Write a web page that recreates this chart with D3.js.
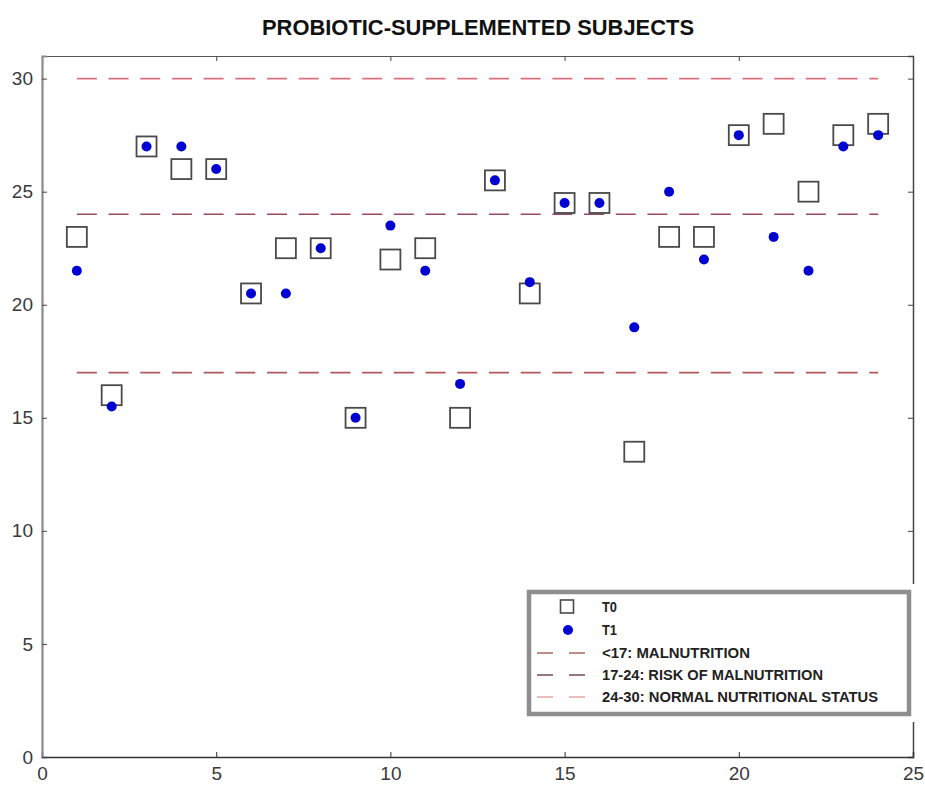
<!DOCTYPE html>
<html>
<head>
<meta charset="utf-8">
<script src="https://cdn.jsdelivr.net/npm/d3@7"></script>
<style>
  html, body { margin: 0; padding: 0; background: #fff; }
  svg { display: block; }
</style>
</head>
<body>
<svg id="chart" width="925" height="791"></svg>
<script>
// Subject index (1..24) and BMI-like nutritional scores at two time points
const subjects = [1,2,3,4,5,6,7,8,9,10,11,12,13,14,15,16,17,18,19,20,21,22,23,24];
const t0Values = [23,16,27,26,26,20.5,22.5,22.5,15,22,22.5,15,25.5,20.5,24.5,24.5,13.5,23,23,27.5,28,25,27.5,28];
const t1Values = [21.5,15.5,27,27,26,20.5,20.5,22.5,15,23.5,21.5,16.5,25.5,21,24.5,24.5,19,25,22,27.5,23,21.5,27,27.5];

// Threshold reference lines
const thresholdValues = [17, 24, 30];
const thresholdLabels = ["<17: MALNUTRITION", "17-24: RISK OF MALNUTRITION", "24-30: NORMAL NUTRITIONAL STATUS"];
const thresholdColors = ["#b0585c", "#9a4a5c", "#d9707e"];
const thresholdLegendColors = ["#a86a5a", "#7a4a5a", "#e0a8a8"];

const xTicks = [0, 5, 10, 15, 20, 25];
const yTicks = [0, 5, 10, 15, 20, 25, 30];

const svg = d3.select("#chart");

const x = d3.scaleLinear().domain([0, 25]).range([42, 913]);
const y = d3.scaleLinear().domain([0, 31]).range([757, 56]);

// Title
svg.append("text")
  .attr("x", 478).attr("y", 35)
  .attr("text-anchor", "middle")
  .attr("font-family", "Liberation Sans, Arial, sans-serif")
  .attr("font-weight", "bold")
  .attr("font-size", 22)
  .attr("textLength", 432)
  .attr("lengthAdjust", "spacingAndGlyphs")
  .attr("fill", "#111")
  .text("PROBIOTIC-SUPPLEMENTED SUBJECTS");

// Frame: top and right edges with inward ticks
const topAxis = svg.append("g")
  .attr("transform", `translate(0,${y(31)})`)
  .call(d3.axisTop(x).tickValues(xTicks).tickSize(-5).tickFormat(""));
topAxis.select(".domain").attr("stroke", "#555").attr("stroke-width", 1);
topAxis.selectAll(".tick line").attr("stroke", "#444");

const rightAxis = svg.append("g")
  .attr("transform", `translate(${x(25)},0)`)
  .call(d3.axisRight(y).tickValues(yTicks).tickSize(-5).tickFormat(""));
rightAxis.select(".domain").attr("stroke", "#444").attr("stroke-width", 1.5);
rightAxis.selectAll(".tick line").attr("stroke", "#444");

// Threshold dashed lines
svg.append("g").selectAll("line")
  .data(thresholdValues)
  .join("line")
  .attr("x1", x(1)).attr("x2", x(24))
  .attr("y1", d => y(d)).attr("y2", d => y(d))
  .attr("stroke", (d, i) => thresholdColors[i])
  .attr("stroke-width", 1.6)
  .attr("stroke-dasharray", "20,11.7");

// Bottom and left axes
const bottomAxis = svg.append("g")
  .attr("transform", `translate(0,${y(0)})`)
  .call(d3.axisBottom(x).tickValues(xTicks).tickSize(-5).tickPadding(10).tickFormat(d3.format("d")));
bottomAxis.select(".domain").attr("stroke", "#333").attr("stroke-width", 1.5);
bottomAxis.selectAll(".tick line").attr("stroke", "#333");
bottomAxis.selectAll(".tick text")
  .attr("font-family", "Liberation Sans, Arial, sans-serif")
  .attr("font-size", 19).attr("fill", "#3a3a3a");

const leftAxis = svg.append("g")
  .attr("transform", `translate(${x(0)},0)`)
  .call(d3.axisLeft(y).tickValues(yTicks).tickSize(-5).tickPadding(9).tickFormat(d3.format("d")));
leftAxis.select(".domain").attr("stroke", "#8a8a8a").attr("stroke-width", 2.2);
leftAxis.selectAll(".tick line").attr("stroke", "#444");
leftAxis.selectAll(".tick text")
  .attr("font-family", "Liberation Sans, Arial, sans-serif")
  .attr("font-size", 19).attr("fill", "#3a3a3a");

// T0: open squares
const sq = 20;
svg.append("g").selectAll("rect")
  .data(subjects.map((s, i) => ({ s, v: t0Values[i] })))
  .join("rect")
  .attr("x", d => x(d.s) - sq / 2)
  .attr("y", d => y(d.v) - sq / 2)
  .attr("width", sq).attr("height", sq)
  .attr("fill", "none")
  .attr("stroke", "#4a4a4a")
  .attr("stroke-width", 1.8);

// T1: filled blue dots
svg.append("g").selectAll("circle")
  .data(subjects.map((s, i) => ({ s, v: t1Values[i] })))
  .join("circle")
  .attr("cx", d => x(d.s))
  .attr("cy", d => y(d.v))
  .attr("r", 5)
  .attr("fill", "#0000d2");

// Legend
const legend = svg.append("g");
legend.append("rect")
  .attr("x", 522).attr("y", 584).attr("width", 396).attr("height", 138)
  .attr("fill", "#fff");
legend.append("rect")
  .attr("x", 529).attr("y", 592).attr("width", 380).attr("height", 122)
  .attr("fill", "#fff")
  .attr("stroke", "#8e8e8e")
  .attr("stroke-width", 4.5);

const rowY = [607, 630, 653, 675, 697];
const textX = 602;
const legendFont = "Liberation Sans, Arial, sans-serif";

legend.append("rect")
  .attr("x", 567 - 6.5).attr("y", rowY[0] - 7).attr("width", 13).attr("height", 13)
  .attr("fill", "none").attr("stroke", "#4a4a4a").attr("stroke-width", 1.6);
legend.append("circle")
  .attr("cx", 568).attr("cy", rowY[1]).attr("r", 5)
  .attr("fill", "#0000d2");

const seriesNames = ["T0", "T1"];
legend.selectAll("text.series")
  .data(seriesNames)
  .join("text")
  .attr("class", "series")
  .attr("x", textX).attr("y", (d, i) => rowY[i] + 5)
  .attr("font-family", legendFont).attr("font-weight", "bold")
  .attr("font-size", 14).attr("fill", "#222")
  .attr("textLength", 15)
  .attr("lengthAdjust", "spacingAndGlyphs")
  .text(d => d);

const legendWidths = [148, 221, 276];
thresholdLabels.forEach((label, i) => {
  const yy = rowY[i + 2];
  legend.append("line")
    .attr("x1", 537).attr("x2", 586)
    .attr("y1", yy).attr("y2", yy)
    .attr("stroke", thresholdLegendColors[i])
    .attr("stroke-width", 1.6)
    .attr("stroke-dasharray", "16,16");
  legend.append("text")
    .attr("x", textX).attr("y", yy + 5)
    .attr("font-family", legendFont).attr("font-weight", "bold")
    .attr("font-size", 14).attr("fill", "#222")
    .attr("textLength", legendWidths[i])
    .attr("lengthAdjust", "spacingAndGlyphs")
    .text(label);
});
</script>
</body>
</html>
